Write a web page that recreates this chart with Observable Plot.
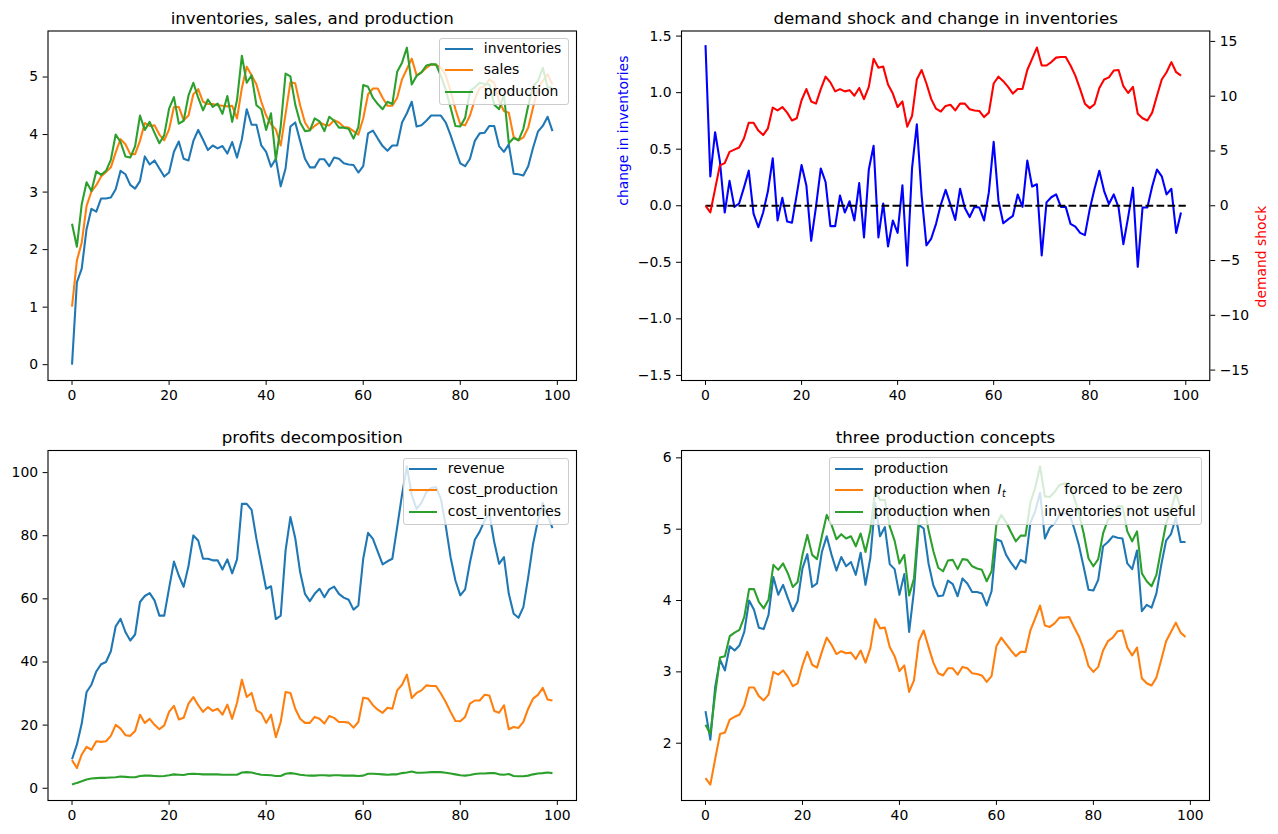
<!DOCTYPE html>
<html><head><meta charset="utf-8">
<script src="https://cdn.jsdelivr.net/npm/d3@7"></script>
<script src="https://cdn.jsdelivr.net/npm/@observablehq/plot@0.6"></script>
<style>
body{margin:0;background:#fff;}
#fig{position:relative;width:1278px;height:834px;background:#fff;overflow:hidden;font-family:"DejaVu Sans",sans-serif;}
#fig svg{position:absolute;}
.legend{position:absolute;background:rgba(255,255,255,0.8);border:1px solid #cccccc;border-radius:3px;box-sizing:border-box;}
.lg-line{position:absolute;height:0;border-top:2.08px solid;}
.lg-text{position:absolute;font-size:13.9px;line-height:16px;white-space:nowrap;color:#000;}
</style></head><body><div id="fig"></div><script>
// ---------------- data ----------------
const periods = Array.from({length: 100}, (_, i) => i);

const inventories = [0, 1.43, 1.67, 2.36, 2.71, 2.66, 2.89, 2.89, 2.905, 3.05,
 3.37, 3.31, 3.125, 3.06, 3.19, 3.62, 3.48, 3.55, 3.41, 3.27,
 3.34, 3.70, 3.88, 3.58, 3.55, 3.89, 4.08, 3.91, 3.73, 3.81,
 3.76, 3.80, 3.67, 3.87, 3.60, 3.92, 4.44, 4.17, 4.17, 3.81,
 3.70, 3.44, 3.58, 3.10, 3.41, 4.14, 4.21, 3.89, 3.58, 3.43,
 3.43, 3.57, 3.57, 3.45, 3.60, 3.58, 3.50, 3.48, 3.47, 3.34,
 3.45, 4.02, 4.07, 3.93, 3.80, 3.72, 3.81, 3.81, 4.21, 4.37,
 4.57, 4.14, 4.16, 4.24, 4.33, 4.33, 4.33, 4.21, 3.99, 3.74,
 3.50, 3.45, 3.58, 3.89, 4.02, 4.03, 4.15, 4.15, 3.80, 3.70,
 3.83, 3.32, 3.31, 3.29, 3.45, 3.77, 4.05, 4.15, 4.31, 4.06];

const sales = [1.01, 1.81, 2.12, 2.76, 3.01, 3.12, 3.27, 3.35, 3.43, 3.69,
 3.92, 3.83, 3.66, 3.66, 3.89, 4.20, 4.15, 4.16, 4.00, 3.90,
 4.09, 4.48, 4.48, 4.25, 4.33, 4.70, 4.79, 4.57, 4.53, 4.53,
 4.51, 4.50, 4.49, 4.50, 4.28, 4.81, 5.18, 5.03, 4.87, 4.57,
 4.33, 4.18, 4.09, 3.81, 4.36, 4.91, 4.89, 4.51, 4.21, 4.08,
 4.15, 4.21, 4.17, 4.16, 4.25, 4.21, 4.13, 4.12, 4.06, 4.00,
 4.28, 4.70, 4.80, 4.80, 4.64, 4.50, 4.50, 4.64, 4.96, 5.14,
 5.32, 5.03, 5.08, 5.16, 5.22, 5.21, 5.16, 5.03, 4.76, 4.44,
 4.18, 4.16, 4.33, 4.61, 4.81, 4.84, 4.96, 4.90, 4.58, 4.41,
 4.38, 3.96, 3.90, 3.95, 4.12, 4.47, 4.81, 4.93, 5.05, 4.87];

const production = [2.45, 2.05, 2.79, 3.17, 3.02, 3.36, 3.30, 3.37, 3.56, 4.00,
 3.87, 3.62, 3.60, 3.80, 4.33, 4.08, 4.22, 4.03, 3.85, 3.99,
 4.45, 4.65, 4.19, 4.24, 4.68, 4.90, 4.64, 4.42, 4.61, 4.48,
 4.54, 4.36, 4.67, 4.22, 4.60, 5.37, 4.90, 5.03, 4.51, 4.44,
 4.08, 4.37, 3.56, 4.14, 5.06, 5.01, 4.52, 4.21, 4.06, 4.07,
 4.28, 4.23, 4.06, 4.31, 4.24, 4.12, 4.12, 4.10, 3.93, 4.13,
 4.86, 4.83, 4.64, 4.53, 4.44, 4.57, 4.53, 5.09, 5.25, 5.51,
 4.87, 5.02, 5.08, 5.20, 5.22, 5.22, 5.02, 4.78, 4.47, 4.15,
 4.14, 4.29, 4.76, 4.82, 4.90, 4.88, 4.87, 4.52, 4.44, 4.70,
 3.85, 3.94, 3.90, 4.10, 4.50, 4.84, 4.93, 5.16, 4.82, 4.82];

const changeInventories = [1.42, 0.26, 0.65, 0.39, -0.06, 0.22, -0.01, 0.02, 0.16, 0.31,
 -0.07, -0.19, -0.06, 0.13, 0.42, -0.13, 0.07, -0.14, -0.15, 0.10,
 0.36, 0.18, -0.31, -0.01, 0.33, 0.21, -0.18, -0.18, 0.09, -0.06,
 0.04, -0.13, 0.20, -0.28, 0.32, 0.53, -0.28, 0.02, -0.36, -0.13,
 -0.24, 0.18, -0.53, 0.33, 0.72, 0.09, -0.35, -0.29, -0.16, 0.01,
 0.14, 0.01, -0.125, 0.15, -0.02, -0.10, -0.01, -0.015, -0.13, 0.12,
 0.565, 0.045, -0.155, -0.12, -0.09, 0.10, -0.01, 0.40, 0.17, 0.19,
 -0.44, 0.03, 0.075, 0.10, -0.01, -0.01, -0.16, -0.185, -0.24, -0.26,
 -0.03, 0.15, 0.31, 0.13, 0.015, 0.10, -0.015, -0.34, -0.10, 0.16,
 -0.54, -0.015, -0.015, 0.17, 0.32, 0.26, 0.10, 0.15, -0.24, -0.06];

const demandShock = [0, -0.61, 1.54, 3.69, 3.89, 4.92, 5.12, 5.32, 6.14, 7.58,
 7.58, 6.86, 6.45, 7.07, 8.96, 8.70, 9.01, 8.50, 7.78, 7.99,
 9.63, 10.65, 9.52, 9.32, 10.65, 11.78, 11.26, 10.44, 10.65, 10.44,
 10.55, 10.04, 10.75, 9.73, 10.85, 13.41, 12.60, 12.70, 11.06, 10.24,
 9.01, 9.52, 7.22, 8.19, 11.52, 12.39, 11.16, 9.73, 8.86, 8.60,
 9.11, 9.22, 8.70, 9.32, 9.32, 8.81, 8.70, 8.65, 8.09, 8.50,
 11.16, 11.78, 11.37, 10.85, 10.24, 10.65, 10.65, 12.39, 13.41, 14.44,
 12.80, 12.80, 13.11, 13.52, 13.57, 13.57, 12.80, 11.88, 10.65, 9.32,
 8.91, 9.27, 10.75, 11.52, 11.72, 12.34, 12.39, 10.91, 10.29, 10.85,
 8.40, 7.99, 7.78, 8.50, 10.04, 11.52, 12.19, 13.11, 12.19, 11.88];

const zeroLineX = [0, 100];
const zeroLineY = [0, 0];

const revenue = [9.2, 13.8, 20.5, 30.5, 32.8, 37.0, 39.3, 40.0, 43.4, 51.3,
 53.7, 49.5, 46.8, 48.7, 59.0, 60.9, 61.8, 59.5, 54.7, 54.7,
 63.4, 71.8, 67.4, 63.8, 70.4, 80.1, 78.5, 72.7, 72.7, 72.2,
 72.2, 69.3, 72.5, 68.1, 72.5, 90.1, 90.1, 88.2, 79.0, 71.1,
 63.2, 64.0, 53.6, 54.7, 75.3, 85.9, 79.2, 68.5, 61.6, 59.3,
 61.6, 63.2, 60.5, 63.0, 63.9, 61.6, 60.4, 59.7, 56.6, 57.9,
 72.7, 80.9, 79.0, 75.0, 70.9, 71.9, 72.7, 82.7, 93.0, 102.0,
 92.9, 88.5, 90.4, 93.8, 95.1, 95.4, 91.7, 83.2, 73.2, 65.8,
 61.1, 63.0, 71.6, 78.7, 81.3, 84.8, 86.9, 78.0, 71.1, 73.2,
 61.6, 55.3, 54.0, 57.4, 66.9, 77.4, 84.8, 90.4, 86.4, 82.4];

const costProduction = [8.9, 6.4, 10.7, 13.1, 12.2, 14.9, 14.7, 14.9, 16.6, 20.1,
 18.9, 16.8, 16.6, 18.1, 23.3, 20.7, 22.0, 20.1, 18.7, 19.9,
 24.2, 26.1, 21.8, 22.3, 26.8, 28.9, 26.3, 24.2, 25.7, 24.5,
 25.2, 23.3, 26.5, 22.0, 27.1, 34.4, 28.9, 30.2, 24.7, 23.8,
 20.7, 23.3, 16.2, 21.0, 30.5, 30.2, 25.2, 22.0, 20.7, 20.7,
 22.6, 22.0, 20.5, 22.9, 22.3, 21.0, 21.0, 20.8, 19.2, 21.0,
 28.7, 28.4, 26.3, 24.9, 23.9, 25.5, 25.2, 31.0, 32.8, 36.0,
 28.6, 30.2, 31.0, 32.6, 32.4, 32.4, 30.0, 27.3, 24.2, 21.3,
 21.2, 22.6, 26.8, 27.8, 27.8, 29.6, 29.4, 24.5, 23.9, 26.3,
 18.7, 19.4, 19.1, 21.0, 25.2, 28.4, 29.6, 31.8, 28.1, 27.8];

const costInventories = [1.16, 1.7, 2.2, 2.8, 3.1, 3.2, 3.3, 3.3, 3.4, 3.5,
 3.7, 3.6, 3.5, 3.5, 3.9, 4.0, 4.0, 3.9, 3.8, 3.9,
 4.1, 4.4, 4.3, 4.2, 4.5, 4.6, 4.5, 4.4, 4.4, 4.4,
 4.4, 4.3, 4.3, 4.3, 4.3, 5.0, 5.1, 5.0, 4.6, 4.3,
 4.2, 4.1, 3.9, 3.9, 4.6, 4.8, 4.6, 4.3, 4.1, 4.0,
 4.0, 4.1, 4.1, 4.0, 4.1, 4.1, 4.0, 4.0, 4.0, 3.9,
 4.0, 4.6, 4.6, 4.5, 4.4, 4.3, 4.4, 4.4, 4.8, 5.0,
 5.3, 4.9, 4.9, 5.0, 5.1, 5.1, 5.1, 4.9, 4.7, 4.4,
 4.1, 4.0, 4.2, 4.5, 4.7, 4.7, 4.8, 4.8, 4.4, 4.3,
 4.5, 3.9, 3.8, 3.8, 4.0, 4.4, 4.7, 4.8, 5.0, 4.8];

const productionNoInventories = [1.51, 1.42, 1.78, 2.13, 2.15, 2.33, 2.37, 2.40, 2.53, 2.78,
 2.78, 2.66, 2.60, 2.68, 3.00, 2.96, 3.02, 2.93, 2.80, 2.84,
 3.09, 3.28, 3.10, 3.06, 3.28, 3.48, 3.38, 3.25, 3.29, 3.26,
 3.27, 3.18, 3.30, 3.13, 3.33, 3.74, 3.61, 3.62, 3.35, 3.22,
 3.01, 3.09, 2.72, 2.88, 3.43, 3.58, 3.35, 3.13, 2.98, 2.95,
 3.05, 3.05, 2.96, 3.07, 3.05, 2.98, 2.97, 2.95, 2.86, 2.94,
 3.36, 3.48, 3.39, 3.30, 3.22, 3.28, 3.28, 3.58, 3.75, 3.93,
 3.65, 3.63, 3.68, 3.76, 3.76, 3.77, 3.63, 3.50, 3.32, 3.08,
 3.00, 3.07, 3.30, 3.43, 3.48, 3.57, 3.58, 3.34, 3.23, 3.34,
 2.91, 2.84, 2.81, 2.92, 3.17, 3.43, 3.56, 3.69, 3.55, 3.49];

const productionNotUseful = [2.26, 2.13, 2.69, 3.20, 3.22, 3.50, 3.55, 3.59, 3.77, 4.16,
 4.16, 3.98, 3.89, 4.01, 4.50, 4.43, 4.52, 4.38, 4.19, 4.26,
 4.64, 4.92, 4.64, 4.58, 4.90, 5.20, 5.06, 4.86, 4.93, 4.87,
 4.90, 4.76, 4.94, 4.68, 4.99, 5.55, 5.41, 5.41, 5.04, 4.84,
 4.52, 4.64, 4.07, 4.31, 5.13, 5.35, 4.99, 4.69, 4.46, 4.41,
 4.56, 4.57, 4.44, 4.58, 4.57, 4.48, 4.45, 4.43, 4.27, 4.41,
 5.06, 5.20, 5.10, 4.96, 4.83, 4.91, 4.91, 5.37, 5.58, 5.88,
 5.46, 5.45, 5.52, 5.62, 5.64, 5.64, 5.45, 5.23, 4.94, 4.59,
 4.48, 4.58, 4.94, 5.13, 5.18, 5.32, 5.32, 4.97, 4.83, 4.97,
 4.38, 4.27, 4.20, 4.36, 4.73, 5.08, 5.27, 5.51, 5.30, 5.23];

// tick values and texts
const xTicks = [0, 20, 40, 60, 80, 100];
const yTicksP1 = [0, 1, 2, 3, 4, 5];
const yTicksP2Left = [-1.5, -1.0, -0.5, 0.0, 0.5, 1.0, 1.5];
const yTicksP2Right = [-15, -10, -5, 0, 5, 10, 15];
const yTicksP3 = [0, 20, 40, 60, 80, 100];
const yTicksP4 = [2, 3, 4, 5, 6];
const titles = ["inventories, sales, and production", "demand shock and change in inventories",
  "profits decomposition", "three production concepts"];
const legendP1 = ["inventories", "sales", "production"];
const legendP3 = ["revenue", "cost_production", "cost_inventories"];
const colors = ["#1f77b4", "#ff7f0e", "#2ca02c"];

// ---------------- drawing ----------------
const fig = document.getElementById("fig");
const FONT = "DejaVu Sans";
const LW = 2.08;
const baseStyle = {fontFamily: FONT, fontSize: "13.9px", color: "black", background: "transparent", overflow: "visible"};
const axisOpts = {tickSize: 4.9, tickPadding: 5, label: null};

function series(values) { return periods.map((t, i) => ({t, v: values[i]})); }
function lineOf(values, color) {
  return Plot.lineY(series(values), {x: "t", y: "v", stroke: color, strokeWidth: LW, strokeLinejoin: "round", strokeLinecap: "butt"});
}
function title(text) {
  return Plot.text([text], {text: d => d, frameAnchor: "top", dy: -19, fontSize: 16.7, fill: "black"});
}
function place(svg, left, top) {
  svg.style.left = left + "px"; svg.style.top = top + "px";
  fig.append(svg);
}

// Panel 1
place(Plot.plot({
  width: 640, height: 420, marginLeft: 47.5, marginRight: 64, marginTop: 30.5, marginBottom: 40,
  style: baseStyle,
  x: {domain: [-4.95, 103.95]}, y: {domain: [-0.275, 5.80]},
  marks: [
    Plot.axisX({...axisOpts, ticks: xTicks, tickFormat: d3.format("d")}),
    Plot.axisY({...axisOpts, ticks: yTicksP1, tickFormat: d3.format("d")}),
    lineOf(inventories, colors[0]),
    lineOf(sales, colors[1]),
    lineOf(production, colors[2]),
    Plot.frame({stroke: "black", strokeWidth: 1.1}),
    title(titles[0])
  ]
}), 0, 0);

// Panel 2 (left axis)
place(Plot.plot({
  width: 678, height: 420, marginLeft: 81, marginRight: 68.7, marginTop: 30.5, marginBottom: 40,
  style: baseStyle,
  x: {domain: [-5, 105]}, y: {domain: [-1.545, 1.545]},
  marks: [
    Plot.axisX({...axisOpts, ticks: xTicks, tickFormat: d3.format("d")}),
    Plot.axisY({...axisOpts, ticks: yTicksP2Left, tickFormat: d3.format(".1f")}),
    lineOf(changeInventories, "blue"),
    Plot.lineY(zeroLineX.map((x, i) => ({x, y: zeroLineY[i]})), {x: "x", y: "y", stroke: "black", strokeWidth: LW, strokeDasharray: "7.7,3.3", strokeLinecap: "butt"}),
    Plot.frame({stroke: "black", strokeWidth: 1.1}),
    Plot.text(["change in inventories"], {text: d => d, frameAnchor: "left", dx: -58, rotate: -90, fill: "blue", fontSize: 13.9}),
    title(titles[1])
  ]
}), 600, 0);

// Panel 2 (right axis overlay)
place(Plot.plot({
  width: 678, height: 420, marginLeft: 81, marginRight: 68.7, marginTop: 30.5, marginBottom: 40,
  style: baseStyle,
  x: {domain: [-5, 105], axis: null}, y: {domain: [-15.95, 15.95]},
  marks: [
    Plot.axisY({...axisOpts, anchor: "right", ticks: yTicksP2Right, tickFormat: d3.format("d")}),
    lineOf(demandShock, "red"),
    Plot.text(["demand shock"], {text: d => d, frameAnchor: "right", dx: 52, rotate: -90, fill: "red", fontSize: 13.9})
  ]
}), 600, 0);

// Panel 3
place(Plot.plot({
  width: 640, height: 414, marginLeft: 47.5, marginRight: 64, marginTop: 30, marginBottom: 34,
  style: baseStyle,
  x: {domain: [-4.95, 103.95]}, y: {domain: [-3.88, 107.0]},
  marks: [
    Plot.axisX({...axisOpts, ticks: xTicks, tickFormat: d3.format("d")}),
    Plot.axisY({...axisOpts, ticks: yTicksP3, tickFormat: d3.format("d")}),
    lineOf(revenue, colors[0]),
    lineOf(costProduction, colors[1]),
    lineOf(costInventories, colors[2]),
    Plot.frame({stroke: "black", strokeWidth: 1.1}),
    title(titles[2])
  ]
}), 0, 420);

// Panel 4
place(Plot.plot({
  width: 678, height: 414, marginLeft: 81, marginRight: 69, marginTop: 30, marginBottom: 34,
  style: baseStyle,
  x: {domain: [-4.95, 103.95]}, y: {domain: [1.197, 6.103]},
  marks: [
    Plot.axisX({...axisOpts, ticks: xTicks, tickFormat: d3.format("d")}),
    Plot.axisY({...axisOpts, ticks: yTicksP4, tickFormat: d3.format("d")}),
    lineOf(production, colors[0]),
    lineOf(productionNoInventories, colors[1]),
    lineOf(productionNotUseful, colors[2]),
    Plot.frame({stroke: "black", strokeWidth: 1.1}),
    title(titles[3])
  ]
}), 600, 420);

// ---------------- legends (HTML, above the SVGs) ----------------
function el(cls, style, html) {
  const d = document.createElement("div");
  d.className = cls; Object.assign(d.style, style);
  if (html !== undefined) d.innerHTML = html;
  fig.append(d); return d;
}
function legend(box, rowYs, handleX, rows) {
  el("legend", {left: box[0] + "px", top: box[1] + "px", width: box[2] + "px", height: box[3] + "px"});
  rows.forEach((r, i) => {
    const y = rowYs[i];
    el("lg-line", {left: handleX + "px", top: (y - LW / 2) + "px", width: "27.8px", borderTopColor: r.color});
    for (const [x, html] of r.parts) {
      el("lg-text", {left: x + "px", top: (y - 9) + "px"}, html);
    }
  });
}
legend([439.3, 37.7, 129.5, 67.5], [49, 70, 91.7], 444.9,
  legendP1.map((s, i) => ({color: colors[i], parts: [[483.8, s]]})));
legend([403.3, 457.7, 165.5, 67.5], [469, 490, 511.7], 408.9,
  legendP3.map((s, i) => ({color: colors[i], parts: [[447.8, s]]})));
legend([829.3, 457.3, 373, 68], [469, 490, 511.7], 834.9, [
  {color: colors[0], parts: [[873.8, "production"]]},
  {color: colors[1], parts: [[873.8, "production when"], [997.5, '<i>I</i><sub style="font-size:9.7px;vertical-align:-3px;font-style:italic;margin-left:0.5px">t</sub>'], [1064.3, "forced to be zero"]]},
  {color: colors[2], parts: [[873.8, "production when"], [1044.3, "inventories not useful"]]}
]);
</script></body></html>
